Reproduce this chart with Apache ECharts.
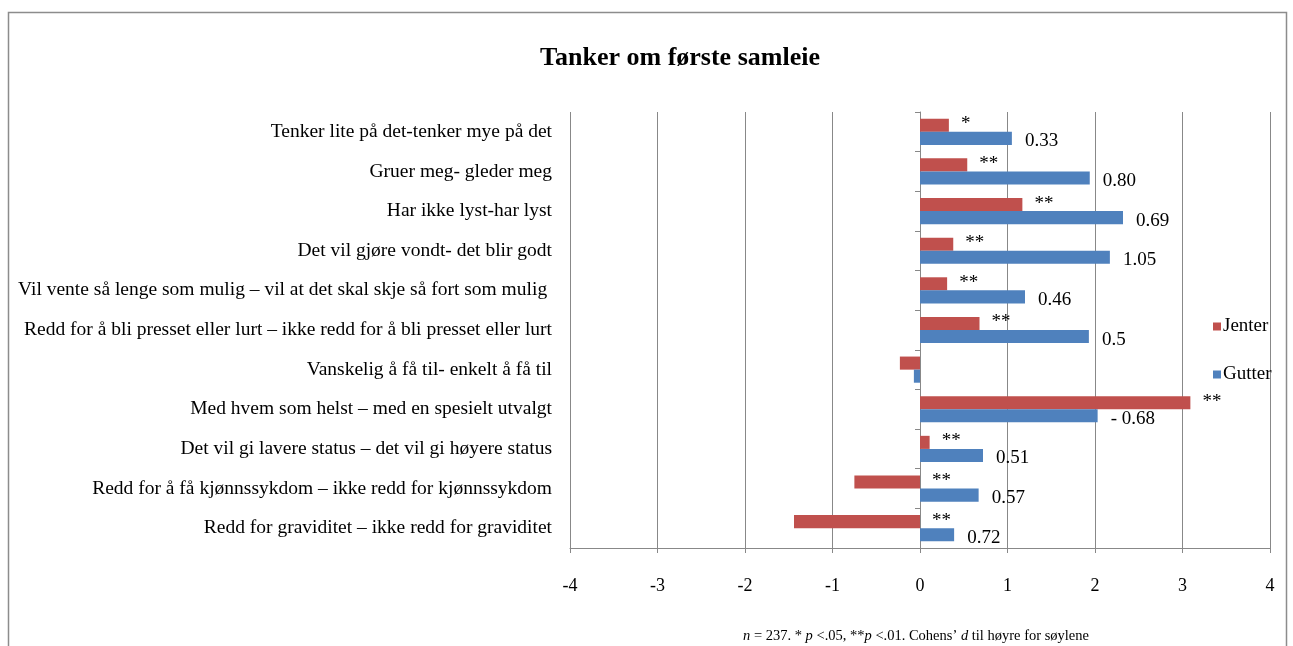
<!DOCTYPE html>
<html><head><meta charset="utf-8">
<script src="https://cdn.jsdelivr.net/npm/echarts@6/dist/echarts.min.js"></script>
<style>html,body{margin:0;padding:0;background:#fff}#c{width:1293px;height:646px}</style>
</head><body><div id="c"></div>
<script>
const categories = [
  'Tenker lite på det-tenker mye på det',
  'Gruer meg- gleder meg',
  'Har ikke lyst-har lyst',
  'Det vil gjøre vondt- det blir godt',
  'Vil vente så lenge som mulig – vil at det skal skje så fort som mulig ',
  'Redd for å bli presset eller lurt – ikke redd for å bli presset eller lurt',
  'Vanskelig å få til- enkelt å få til',
  'Med hvem som helst – med en spesielt utvalgt',
  'Det vil gi lavere status – det vil gi høyere status',
  'Redd for å få kjønnssykdom – ikke redd for kjønnssykdom',
  'Redd for graviditet – ikke redd for graviditet'
];
const jenter = [0.33, 0.54, 1.17, 0.38, 0.31, 0.68, -0.23, 3.09, 0.11, -0.75, -1.44];
const gutter = [1.05, 1.94, 2.32, 2.17, 1.20, 1.93, -0.07, 2.03, 0.72, 0.67, 0.39];
const significance = ['*', '**', '**', '**', '**', '**', '', '**', '**', '**', '**'];
const cohensD = ['0.33', '0.80', '0.69', '1.05', '0.46', '0.5', '', '- 0.68', '0.51', '0.57', '0.72'];
const xMin = -4, xMax = 4, xInterval = 1;

const serif = '"Liberation Serif", "Times New Roman", serif';
const chart = echarts.init(document.getElementById('c'), null, {renderer: 'canvas'});
chart.setOption({
  backgroundColor: '#fff',
  animation: false,
  title: [{
    text: 'Tanker om første samleie',
    left: 675, top: 40, textAlign: 'center',
    textStyle: {fontFamily: serif, fontSize: 26, fontWeight: 'bold', color: '#000'}
  }, {
    text: '{i|n} = 237. * {i|p} <.05, **{i|p} <.01. Cohens’ {i|d} til høyre for søylene',
    left: 911, top: 624, textAlign: 'center',
    textStyle: {fontFamily: serif, fontSize: 14.5, fontWeight: 'normal', color: '#000',
      rich: {i: {fontFamily: serif, fontSize: 14.5, fontStyle: 'italic', color: '#000'}}}
  }],
  legend: {
    data: ['Jenter', 'Gutter'],
    orient: 'vertical', left: 1208, top: 312,
    icon: 'rect', itemWidth: 8, itemHeight: 8, itemGap: 29,
    textStyle: {fontFamily: serif, fontSize: 19, color: '#000', padding: [0, 0, 0, -3]}
  },
  graphic: [{
    type: 'polyline',
    shape: {points: [[8.5, 646], [8.5, 12.5], [1286.5, 12.5], [1286.5, 646]]},
    style: {stroke: '#8c8c8c', lineWidth: 1.5, fill: null},
    silent: true
  }],
  grid: {left: 570, right: 23, top: 112, bottom: 98},
  xAxis: {
    type: 'value', min: xMin, max: xMax, interval: xInterval,
    axisLine: {show: true, lineStyle: {color: '#888', width: 1}},
    axisTick: {show: true, length: 5, lineStyle: {color: '#888'}},
    axisLabel: {fontFamily: serif, fontSize: 18, color: '#000', margin: 29},
    splitLine: {show: true, lineStyle: {color: '#888', width: 1}}
  },
  yAxis: [{
    type: 'category', data: categories, inverse: true,
    axisLine: {show: true, onZero: true, lineStyle: {color: '#888'}},
    axisTick: {show: true, length: 5, lineStyle: {color: '#888'}},
    axisLabel: {show: false},
    splitLine: {show: false}
  }, {
    type: 'category', data: categories, inverse: true, position: 'left',
    axisLine: {show: false, onZero: false},
    axisTick: {show: false},
    axisLabel: {fontFamily: serif, fontSize: 19.5, color: '#000', margin: 18, padding: [6, 0, 0, 0]}
  }],
  series: [{
    name: 'Jenter', type: 'bar', data: jenter, yAxisIndex: 0,
    barGap: '0%', barCategoryGap: '34%',
    itemStyle: {color: '#C0504D'},
    label: {show: true, position: 'right', distance: 12, offset: [0, -1],
      fontFamily: serif, fontSize: 19, color: '#000',
      formatter: p => significance[p.dataIndex]}
  }, {
    name: 'Gutter', type: 'bar', data: gutter, yAxisIndex: 0,
    barGap: '0%', barCategoryGap: '34%',
    itemStyle: {color: '#4F81BD'},
    label: {show: true, position: 'right', distance: 13, offset: [0, 3],
      fontFamily: serif, fontSize: 19, color: '#000',
      formatter: p => cohensD[p.dataIndex]}
  }]
});
</script></body></html>
